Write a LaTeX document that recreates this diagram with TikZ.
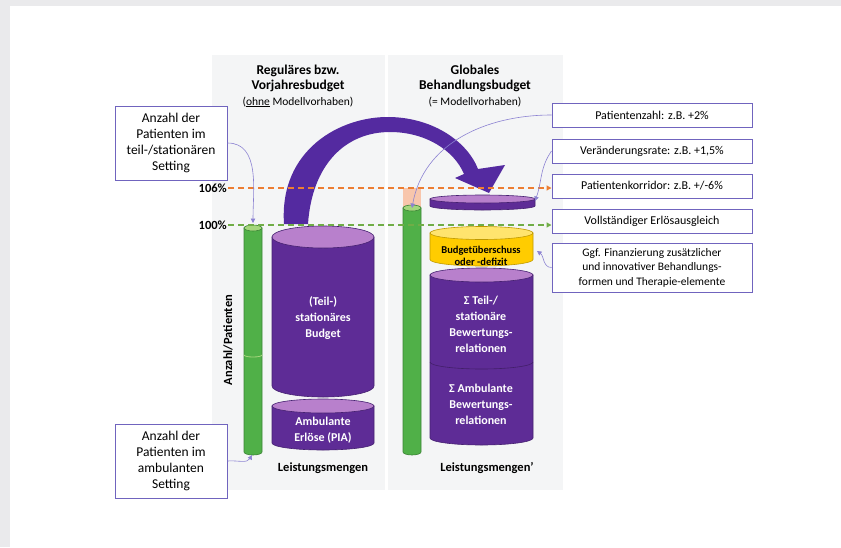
\documentclass[tikz,border=0pt]{standalone}
\usepackage{fontspec}
\setmainfont{Carlito}
\usetikzlibrary{
    positioning,
    arrows.meta,
    calc
}

\definecolor{framegrey}{RGB}{234,234,236}
\definecolor{panelgrey}{RGB}{244,245,246}
\definecolor{budgetpurple}{RGB}{94,44,150}
\definecolor{budgettop}{RGB}{184,128,204}
\definecolor{arrowpurple}{RGB}{84,42,160}
\definecolor{barGreen}{RGB}{80,176,72}
\definecolor{barGreenTop}{RGB}{165,214,125}
\definecolor{deficitYellow}{RGB}{255,204,0}
\definecolor{deficitTop}{RGB}{255,228,110}
\definecolor{corridorSalmon}{RGB}{248,198,172}
\definecolor{lineOrange}{RGB}{237,125,49}
\definecolor{lineGreen}{RGB}{112,173,71}
\definecolor{boxPurple}{RGB}{112,100,190}
\definecolor{linkPurple}{RGB}{140,130,210}

% cylinder: x-left, x-right, y-top, y-bottom, y-radius, body colour, top colour
\newcommand{\budgetcyl}[7]{%
    \pgfmathsetmacro{\cylrx}{(#2-#1)/2}
    \pgfmathsetmacro{\cylcx}{(#1+#2)/2}
    \filldraw[draw=#6!75!black, fill=#6, line width=0.6pt]
        (#1,#3) -- (#1,#4) arc[start angle=180, end angle=360, x radius=\cylrx pt, y radius=#5pt] -- (#2,#3) -- cycle;
    \filldraw[draw=#6!75!black, fill=#7, line width=0.6pt]
        (\cylcx,#3) ellipse[x radius=\cylrx pt, y radius=#5pt];
}

\tikzset{
    title/.style={align=center, font=\fontsize{13.5}{15.5}\selectfont\bfseries},
    infobox/.style={draw=boxPurple, line width=1pt, fill=white, align=center, font=\fontsize{12}{15}\selectfont},
    sidebox/.style={infobox, minimum width=200pt, minimum height=24pt},
    leftbox/.style={infobox, minimum width=112pt, minimum height=74pt, font=\fontsize{13.5}{16}\selectfont},
    cyltext/.style={align=center, text=white, font=\fontsize{12}{16}\selectfont\bfseries},
    boldlabel/.style={font=\fontsize{12.5}{14}\selectfont\bfseries},
    pct/.style={font=\fontsize{12.5}{14}\selectfont\bfseries, inner sep=1pt},
    link/.style={draw=linkPurple, line width=0.6pt, -{Triangle[width=4.5pt,length=4.5pt]}},
    corridor/.style={draw=#1, line width=1.3pt, dash pattern=on 6pt off 4pt, -{Triangle[width=5pt,length=5pt]}}
}

\begin{document}
\begin{tikzpicture}[x=1pt, y=-1pt]
    \useasboundingbox (0,0) rectangle (841,547);

    % Background and panels
    \fill[framegrey] (0,0) rectangle (841,547);
    \fill[white] (10,6) rectangle (841,547);
    \fill[panelgrey] (212,55) rectangle (385,490);
    \fill[panelgrey] (388,55) rectangle (563,490);

    % Titles
    \node[title] (lefttitle) at (298,86) {Reguläres bzw.\\Vorjahresbudget\\{\fontsize{11.5}{15.5}\selectfont\mdseries(\underline{ohne} Modellvorhaben)}};
    \node[title] (righttitle) at (475,86) {Globales\\Behandlungsbudget\\{\fontsize{11.5}{15.5}\selectfont\mdseries(= Modellvorhaben)}};

    % Patient bars
    \fill[corridorSalmon] (403,188) rectangle (421,208);
    \budgetcyl{244}{262}{228}{452}{3}{barGreen}{barGreenTop}
    \draw[barGreenTop, line width=0.8pt] (244,355) arc[start angle=180, end angle=360, x radius=9pt, y radius=2pt];
    \budgetcyl{403}{421}{208}{452}{3}{barGreen}{barGreenTop}

    % Left budget
    \budgetcyl{272}{374}{237}{386}{11}{budgetpurple}{budgettop}
    \budgetcyl{272}{374}{406}{443}{7}{budgetpurple}{budgettop}
    \node[cyltext] (statbudget) at (323,318) {(Teil-)\\stationäres\\Budget};
    \node[cyltext] (ambbudget) at (323,430) {Ambulante\\Erlöse (PIA)};
    \node[boldlabel] (leistung) at (323,468) {Leistungsmengen};
    \node[boldlabel, rotate=90] (anzahl) at (228,340) {Anzahl/Patienten};

    % Right budget
    \budgetcyl{430}{533}{275}{438}{7}{budgetpurple}{budgettop}
    \draw[budgetpurple!70!black, line width=0.6pt] (430,362) arc[start angle=180, end angle=360, x radius=51.5pt, y radius=7pt];
    \budgetcyl{430}{533}{233}{259.5}{6.5}{deficitYellow}{deficitTop}
    \budgetcyl{430}{535}{199}{206}{4}{budgetpurple}{budgettop}
    \node[align=center, font=\fontsize{10.5}{12}\selectfont\bfseries] (deficit) at (481,256) {Budgetüberschuss\\oder -defizit};
    \node[cyltext] (statrel) at (481,324) {Σ Teil-/\\stationäre\\Bewertungs-\\relationen};
    \node[cyltext] (ambrel) at (481,404) {Σ Ambulante\\Bewertungs-\\relationen};
    \node[boldlabel] (leistungneu) at (487,468) {Leistungsmengen'};

    % Transfer arrow
    \fill[arrowpurple] (284,224) .. controls (279,150) and (340,116) .. (390,117)
        .. controls (435,118) and (468,143) .. (478,169) -- (505,165) -- (489,193) -- (455,178) -- (464,174)
        .. controls (454,150) and (425,132) .. (390,132)
        .. controls (345,132) and (312,165) .. (308,224) -- cycle;

    % Side boxes
    \node[sidebox] (zahlbox) at (652,115) {Patientenzahl: z.B. +2\%};
    \node[sidebox] (ratebox) at (652,151) {Veränderungsrate: z.B. +1,5\%};
    \node[sidebox] (korridorbox) at (652,186) {Patientenkorridor: z.B. +/-6\%};
    \node[sidebox] (ausgleichbox) at (652,221) {Vollständiger Erlösausgleich};
    \node[sidebox, minimum height=49pt, font=\fontsize{11.5}{14.5}\selectfont] (ggfbox) at (652,267.5) {Ggf. Finanzierung zusätzlicher\\und innovativer Behandlungs-\\formen und Therapie-elemente};
    \node[leftbox] (statbox) at (171,143) {Anzahl der\\Patienten im\\teil-/stationären\\Setting};
    \node[leftbox] (ambbox) at (171,461) {Anzahl der\\Patienten im\\ambulanten\\Setting};

    % Corridor lines
    \node[pct, anchor=east] (p106) at (228,188) {106\%};
    \node[pct, anchor=east] (p100) at (228,225) {100\%};
    \draw[corridor=lineOrange] (p106.east) -- (p106.east -| korridorbox.west);
    \draw[corridor=lineGreen] (p100.east) -- (p100.east -| ausgleichbox.west);

    % Connectors
    \coordinate (leftbartop) at (253,223);
    \coordinate (leftbarbot) at (252,455);
    \coordinate (rightbartop) at (412,208);
    \coordinate (diskend) at (535,201);
    \coordinate (deficitend) at (537,251);
    \draw[link] (statbox.east) to[out=0, in=90] (leftbartop);
    \draw[link] (ambbox.east) to[out=5, in=-120] (leftbarbot);
    \draw[link] (zahlbox.west) to[out=180, in=80] (rightbartop);
    \draw[link] (ratebox.west) to[out=235, in=70] (diskend);
    \draw[link] (ggfbox.west) to[out=180, in=-35] (deficitend);
\end{tikzpicture}
\end{document}
